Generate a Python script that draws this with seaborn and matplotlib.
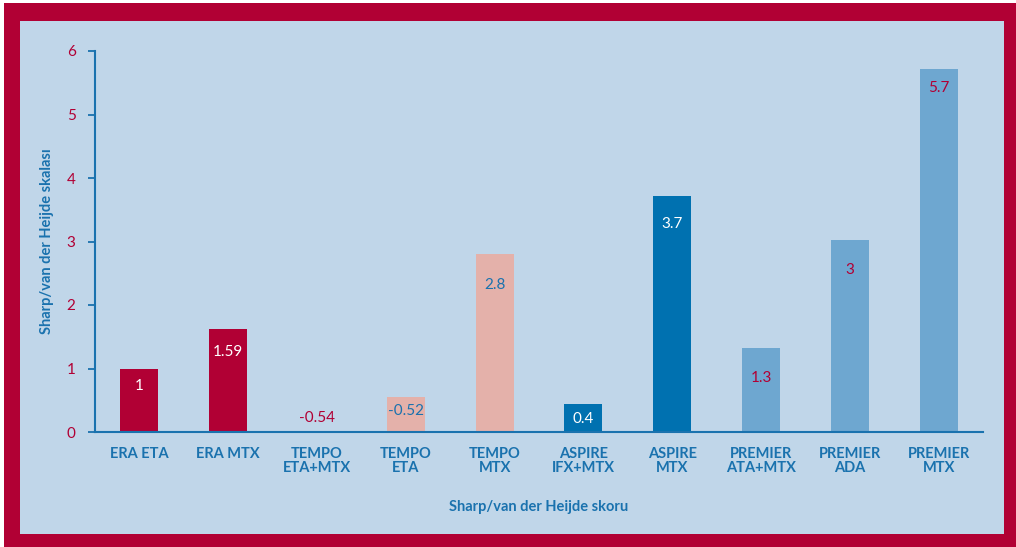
import matplotlib
matplotlib.use("Agg")
import matplotlib.pyplot as plt
import seaborn as sns
import pandas as pd
from matplotlib.patches import Rectangle
import matplotlib.transforms as mtransforms

# ---- data ----
categories = ["ERA ETA", "ERA MTX", "TEMPO\nETA+MTX", "TEMPO\nETA", "TEMPO\nMTX",
              "ASPIRE\nIFX+MTX", "ASPIRE\nMTX", "PREMIER\nATA+MTX", "PREMIER\nADA", "PREMIER\nMTX"]
bar_heights = [1.0, 1.62, 0.0, 0.55, 2.8, 0.44, 3.72, 1.32, 3.02, 5.72]
bar_labels = ["1", "1.59", "-0.54", "-0.52", "2.8", "0.4", "3.7", "1.3", "3", "5.7"]
y_ticks = [0, 1, 2, 3, 4, 5, 6]

# ---- style ----
RED = "#B10034"
PINK = "#E4B1AA"
DARK_BLUE = "#0071B0"
LIGHT_BLUE = "#6EA7D0"
BG = "#C0D6E9"
AXIS_BLUE = "#1A72AE"
bar_colors = [RED, RED, RED, PINK, PINK, DARK_BLUE, DARK_BLUE, LIGHT_BLUE, LIGHT_BLUE, LIGHT_BLUE]
label_colors = ["white", "white", RED, AXIS_BLUE, AXIS_BLUE, "white", "white", RED, RED, RED]
label_offsets_px = [18, 23, -14, 14, 31, 15, 28, 30, 30, 19]

sns.set_style("white")
plt.rcParams["font.family"] = ["Lato", "DejaVu Sans"]

fig = plt.figure(figsize=(10.16, 5.47), dpi=100)
fig.patch.set_facecolor("white")
fig.patches.append(Rectangle((4 / 1016, 0), 1012 / 1016, 544 / 547,
                             transform=fig.transFigure, facecolor=RED, edgecolor="none", zorder=-20))
fig.patches.append(Rectangle((20 / 1016, 13 / 547), 984 / 1016, 513 / 547,
                             transform=fig.transFigure, facecolor=BG, edgecolor="none", zorder=-10))

ax = fig.add_axes([95 / 1016, 1 - 432 / 547, 888 / 1016, 381 / 547])
ax.set_facecolor("none")

df = pd.DataFrame({"cat": categories, "val": bar_heights})
sns.barplot(data=df, x="cat", y="val", hue="cat", palette=bar_colors, width=0.43,
            legend=False, ax=ax, saturation=1, linewidth=0, edgecolor="none")

for i, (h, lab, col, off) in enumerate(zip(bar_heights, bar_labels, label_colors, label_offsets_px)):
    tr = mtransforms.offset_copy(ax.transData, fig=fig, x=0, y=-off * 72 / 100, units="points")
    ax.text(i, h, lab, transform=tr, ha="center", va="center", color=col, fontsize=11)

ax.set_xlim(-0.5, len(categories) - 0.5)
ax.set_ylim(0, 6)
ax.set_yticks(y_ticks)
ax.set_yticklabels([str(t) for t in y_ticks], color=RED, fontsize=11)
ax.set_xticks(range(len(categories)))
ax.set_xticklabels(categories, color=AXIS_BLUE, fontsize=10.5, fontweight="bold", linespacing=1.0)
ax.tick_params(axis="x", length=0, pad=11)
ax.set_xticks([i - 0.5 for i in range(len(categories) + 1)], minor=True)
ax.tick_params(axis="x", which="minor", length=5, width=1.3, color=AXIS_BLUE, direction="out")
ax.tick_params(axis="y", length=5, width=1.3, color=AXIS_BLUE, direction="out", left=True, pad=9)

for s in ["top", "right"]:
    ax.spines[s].set_visible(False)
for s in ["left", "bottom"]:
    ax.spines[s].set_color(AXIS_BLUE)
    ax.spines[s].set_linewidth(1.5)

ax.set_xlabel("Sharp/van der Heijde skoru", color=AXIS_BLUE, fontsize=10.5, fontweight="bold", labelpad=18)
ax.set_ylabel("Sharp/van der Heijde skalası", color=AXIS_BLUE, fontsize=10.5, fontweight="bold", labelpad=9)

fig.savefig("out.png", dpi=100, facecolor=fig.get_facecolor())
